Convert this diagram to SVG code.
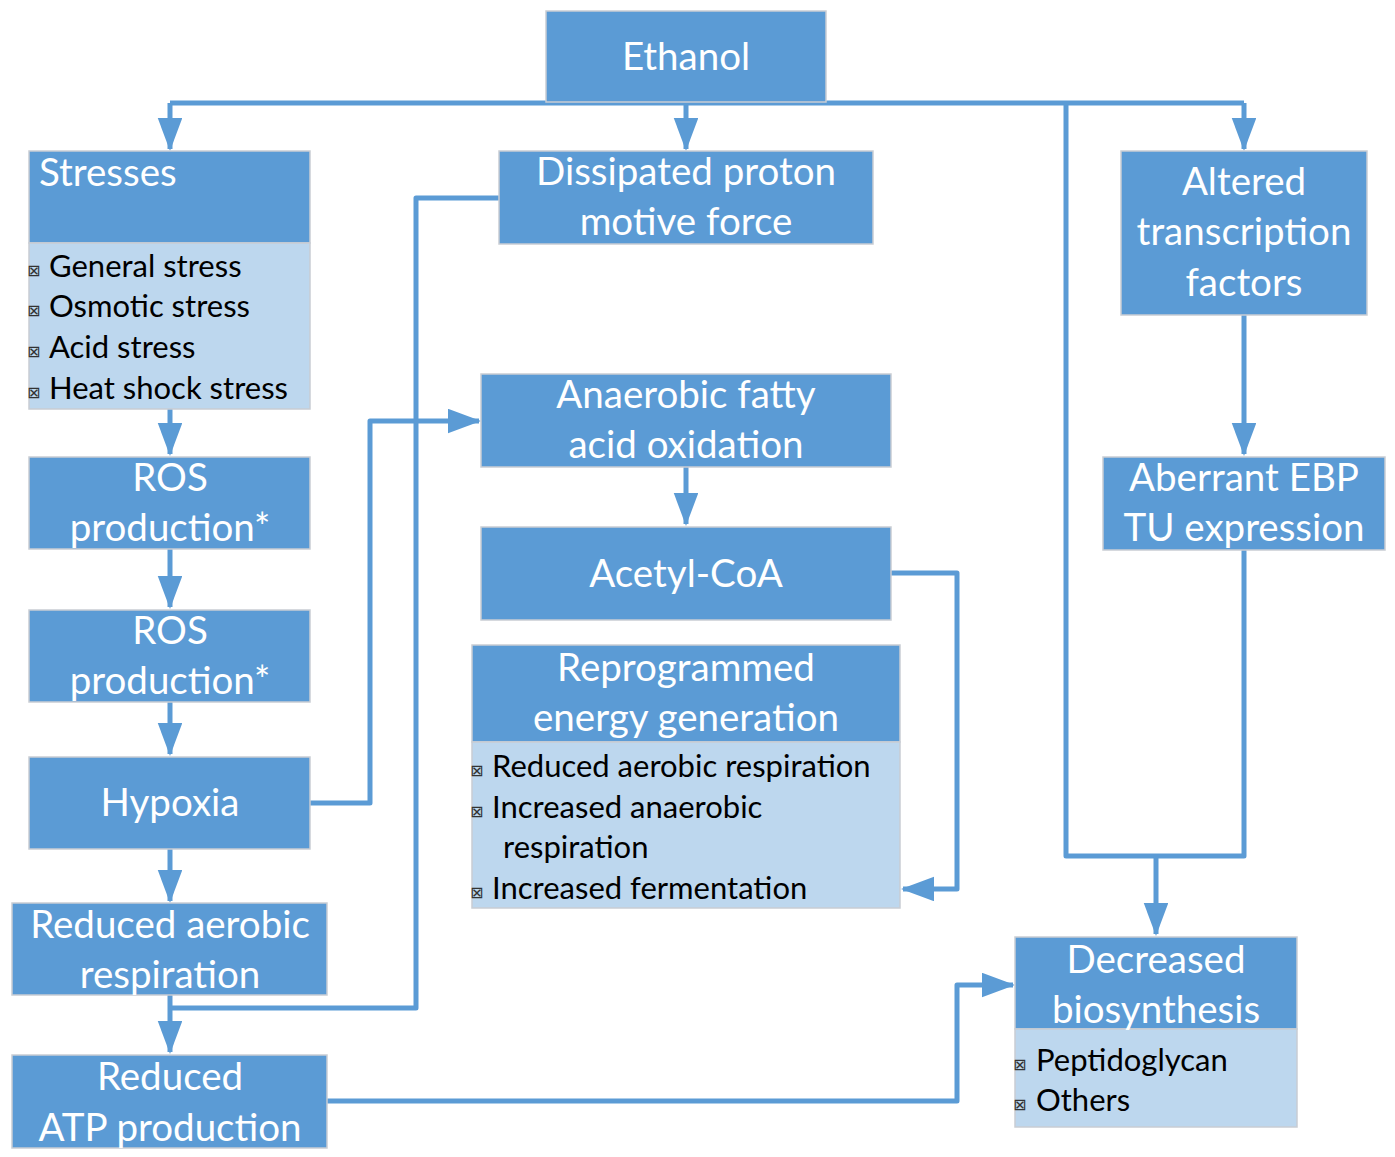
<svg xmlns="http://www.w3.org/2000/svg" width="1395" height="1157" viewBox="0 0 1395 1157">
<defs>
<marker id="ah" markerWidth="7" markerHeight="5" refX="6.2" refY="2.45" orient="auto" markerUnits="strokeWidth">
<path d="M0,0 L6.6,2.45 L0,4.9 Z" fill="#5B9BD5"/>
</marker>
</defs>
<style>
.dk{fill:#5B9BD5;stroke:#C9CDD3;stroke-width:1.5}
.lt{fill:#BDD7EE;stroke:#C9CDD3;stroke-width:1.5}
.h{font-family:Lato,"Liberation Sans",sans-serif;font-size:38.5px;fill:#fff;text-anchor:middle}
.hl{font-family:Lato,"Liberation Sans",sans-serif;font-size:38.5px;fill:#fff}
.b{font-family:Lato,"Liberation Sans",sans-serif;font-size:31px;fill:#000}
.bu{font-family:"DejaVu Sans",sans-serif;font-size:16px;fill:#333}
.c{fill:none;stroke:#5B9BD5;stroke-width:5;stroke-linejoin:round}
.ca{fill:none;stroke:#5B9BD5;stroke-width:5;stroke-linejoin:round;marker-end:url(#ah)}
</style>
<g id="connectors">
<path class="c" d="M170,103 H1244"/>
<path class="ca" d="M170,103 V149"/>
<path class="ca" d="M686,103 V149"/>
<path class="ca" d="M1244,103 V149"/>
<path class="c" d="M1066,103 V856 H1244 V550"/>
<path class="ca" d="M1156,856 V934"/>
<path class="ca" d="M1244,315 V454"/>
<path class="ca" d="M170,409 V454"/>
<path class="ca" d="M170,549 V607"/>
<path class="ca" d="M170,702 V754"/>
<path class="ca" d="M170,849 V901"/>
<path class="ca" d="M170,995 V1052"/>
<path class="c" d="M499,198 H416 V1008 H170"/>
<path class="ca" d="M310,803 H370 V421 H479"/>
<path class="ca" d="M686,467 V524"/>
<path class="ca" d="M891,573 H957 V889 H903"/>
<path class="ca" d="M327,1101 H957 V985 H1013"/>
</g>
<g id="ethanol">
<rect class="dk" x="546" y="11" width="280" height="91"/>
<text class="h" x="686" y="70">Ethanol</text>
</g>
<g id="stresses">
<rect class="dk" x="29" y="151" width="281" height="92"/>
<rect class="lt" x="29" y="243" width="281" height="166"/>
<text class="hl" x="39" y="186">Stresses</text>
<text class="bu" x="27" y="276">⊠</text><text class="b" x="49" y="277">General stress</text>
<text class="bu" x="27" y="316">⊠</text><text class="b" x="49" y="317">Osmotic stress</text>
<text class="bu" x="27" y="357">⊠</text><text class="b" x="49" y="358">Acid stress</text>
<text class="bu" x="27" y="398">⊠</text><text class="b" x="49" y="399">Heat shock stress</text>
</g>
<g id="ros1">
<rect class="dk" x="29" y="457" width="281" height="92"/>
<text class="h" x="170" y="491">ROS</text>
<text class="h" x="170" y="541">production*</text>
</g>
<g id="ros2">
<rect class="dk" x="29" y="610" width="281" height="92"/>
<text class="h" x="170" y="644">ROS</text>
<text class="h" x="170" y="694">production*</text>
</g>
<g id="hypoxia">
<rect class="dk" x="29" y="757" width="281" height="92"/>
<text class="h" x="170" y="816">Hypoxia</text>
</g>
<g id="reduced-aerobic">
<rect class="dk" x="12" y="903" width="315" height="92"/>
<text class="h" x="170" y="938">Reduced aerobic</text>
<text class="h" x="170" y="988">respiration</text>
</g>
<g id="reduced-atp">
<rect class="dk" x="12" y="1055" width="315" height="93"/>
<text class="h" x="170" y="1090">Reduced</text>
<text class="h" x="170" y="1141">ATP production</text>
</g>
<g id="dissipated">
<rect class="dk" x="499" y="151" width="374" height="93"/>
<text class="h" x="686" y="185">Dissipated proton</text>
<text class="h" x="686" y="235">motive force</text>
</g>
<g id="anaerobic">
<rect class="dk" x="481" y="374" width="410" height="93"/>
<text class="h" x="686" y="408">Anaerobic fatty</text>
<text class="h" x="686" y="458">acid oxidation</text>
</g>
<g id="acetyl">
<rect class="dk" x="481" y="527" width="410" height="93"/>
<text class="h" x="686" y="587">Acetyl-CoA</text>
</g>
<g id="reprogrammed">
<rect class="dk" x="472" y="645" width="428" height="97"/>
<rect class="lt" x="472" y="742" width="428" height="166"/>
<text class="h" x="686" y="681">Reprogrammed</text>
<text class="h" x="686" y="731">energy generation</text>
<text class="bu" x="470" y="776">⊠</text><text class="b" x="492" y="777">Reduced aerobic respiration</text>
<text class="bu" x="470" y="817">⊠</text><text class="b" x="492" y="818">Increased anaerobic</text>
<text class="b" x="503" y="858">respiration</text>
<text class="bu" x="470" y="898">⊠</text><text class="b" x="492" y="899">Increased fermentation</text>
</g>
<g id="altered">
<rect class="dk" x="1121" y="151" width="246" height="164"/>
<text class="h" x="1244" y="195">Altered</text>
<text class="h" x="1244" y="245">transcription</text>
<text class="h" x="1244" y="296">factors</text>
</g>
<g id="aberrant">
<rect class="dk" x="1103" y="457" width="282" height="93"/>
<text class="h" x="1244" y="491">Aberrant EBP</text>
<text class="h" x="1244" y="541">TU expression</text>
</g>
<g id="decreased">
<rect class="dk" x="1015" y="937" width="282" height="92"/>
<rect class="lt" x="1015" y="1029" width="282" height="98"/>
<text class="h" x="1156" y="973">Decreased</text>
<text class="h" x="1156" y="1023">biosynthesis</text>
<text class="bu" x="1013" y="1070">⊠</text><text class="b" x="1036" y="1071">Peptidoglycan</text>
<text class="bu" x="1013" y="1110">⊠</text><text class="b" x="1036" y="1111">Others</text>
</g>
</svg>
